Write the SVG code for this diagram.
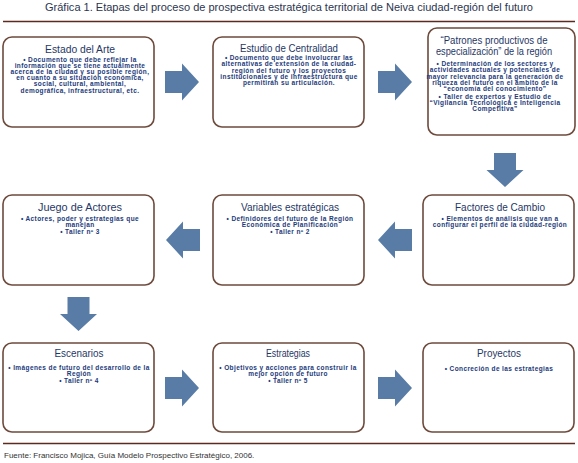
<svg xmlns="http://www.w3.org/2000/svg" width="578" height="463" viewBox="0 0 578 463">
<style>
.bg{fill:#ffffff}
.box{fill:#ffffff;stroke:#6e4a3c;stroke-width:1.6}
.rule{stroke:#5c2a1e;stroke-width:1.4}
.hd{font-family:"Liberation Sans","DejaVu Sans",sans-serif;font-size:10.5px;fill:#2b3550;text-anchor:middle}
.t{font-family:"Liberation Sans","DejaVu Sans",sans-serif;font-size:10.5px;fill:#1f3766;text-anchor:middle}
.t2{font-family:"Liberation Sans","DejaVu Sans",sans-serif;font-size:11px;fill:#1f3766;text-anchor:middle}
.b{font-family:"Liberation Sans","DejaVu Sans",sans-serif;font-size:6.5px;letter-spacing:0.4px;font-weight:bold;fill:#1c3a7a;text-anchor:middle}
.src{font-family:"Liberation Sans","DejaVu Sans",sans-serif;font-size:8px;fill:#333333}
.arr{fill:#587ca6}
</style>
<defs>
<path id="arrow" d="M0,-11 H17 V-18.5 L34,0 L17,18.5 V11 H0 Z"/>
</defs>
<rect class="bg" x="0" y="0" width="578" height="463"/>
<text class="hd" x="289" y="11" textLength="488" lengthAdjust="spacingAndGlyphs">Gráfica 1. Etapas del proceso de prospectiva estratégica territorial de Neiva ciudad-región del futuro</text>
<line class="rule" x1="3" y1="21.5" x2="575" y2="21.5"/>

<g id="connectors">
<use href="#arrow" class="arr" transform="translate(165,82)"/>
<use href="#arrow" class="arr" transform="translate(378,82)"/>
<use href="#arrow" class="arr" transform="translate(505,153) rotate(90)"/>
<use href="#arrow" class="arr" transform="translate(200,240) rotate(180)"/>
<use href="#arrow" class="arr" transform="translate(412,240) rotate(180)"/>
<use href="#arrow" class="arr" transform="translate(78.5,297) rotate(90)"/>
<use href="#arrow" class="arr" transform="translate(165,388)"/>
<use href="#arrow" class="arr" transform="translate(378,388)"/>
</g>

<g id="estado-del-arte">
<rect class="box" x="3" y="37" width="151" height="90" rx="9"/>
<text class="t" x="80" y="53" textLength="70" lengthAdjust="spacingAndGlyphs">Estado del Arte</text>
<text class="b" x="80" y="61.5">• Documento que debe reflejar la</text>
<text class="b" x="80" y="67.7">información que se tiene actualmente</text>
<text class="b" x="80" y="73.9">acerca de la ciudad y su posible región,</text>
<text class="b" x="80" y="80.1">en cuanto a su situación económica,</text>
<text class="b" x="80" y="86.3">social, cultural, ambiental,</text>
<text class="b" x="80" y="92.5">demográfica, infraestructural, etc.</text>
</g>

<g id="estudio-de-centralidad">
<rect class="box" x="213" y="37" width="151" height="90" rx="9"/>
<text class="t" x="289" y="52" textLength="98" lengthAdjust="spacingAndGlyphs">Estudio de Centralidad</text>
<text class="b" x="289" y="60.1">• Documento que debe involucrar las</text>
<text class="b" x="289" y="66.3">alternativas de extensión de la ciudad-</text>
<text class="b" x="289" y="72.5">región del futuro y los proyectos</text>
<text class="b" x="289" y="78.7">institucionales y de infraestructura que</text>
<text class="b" x="289" y="84.9">permitirán su articulación.</text>
</g>

<g id="patrones-productivos">
<rect class="box" x="428" y="28" width="147" height="107" rx="9"/>
<text class="t2" x="494" y="44" textLength="107" lengthAdjust="spacingAndGlyphs">“Patrones productivos de</text>
<text class="t2" x="494" y="55" textLength="116" lengthAdjust="spacingAndGlyphs">especialización” de la región</text>
<text class="b" x="495" y="66.2">• Determinación de los sectores y</text>
<text class="b" x="495" y="72.4">actividades actuales y potenciales de</text>
<text class="b" x="495" y="78.6">mayor relevancia para la generación de</text>
<text class="b" x="495" y="84.8">riqueza del futuro en el ámbito de la</text>
<text class="b" x="495" y="91">“economía del conocimiento”</text>
<text class="b" x="495" y="98.7">• Taller de expertos y Estudio de</text>
<text class="b" x="495" y="104.9">“Vigilancia Tecnológica e Inteligencia</text>
<text class="b" x="495" y="111.1">Competitiva”</text>
</g>

<g id="juego-de-actores">
<rect class="box" x="3" y="195" width="151" height="90" rx="9"/>
<text class="t" x="80" y="210.5" textLength="84" lengthAdjust="spacingAndGlyphs">Juego de Actores</text>
<text class="b" x="80" y="220.8">• Actores, poder y estrategias que</text>
<text class="b" x="80" y="227">manejan</text>
<text class="b" x="80" y="233.6">• Taller nº 3</text>
</g>

<g id="variables-estrategicas">
<rect class="box" x="213" y="195" width="151" height="90" rx="9"/>
<text class="t" x="290" y="210.5" textLength="98" lengthAdjust="spacingAndGlyphs">Variables estratégicas</text>
<text class="b" x="290" y="220.8">• Definidores del futuro de la Región</text>
<text class="b" x="290" y="227">Económica de Planificación</text>
<text class="b" x="290" y="233.6">• Taller nº 2</text>
</g>

<g id="factores-de-cambio">
<rect class="box" x="423" y="195" width="151" height="90" rx="9"/>
<text class="t" x="500" y="210.5" textLength="90" lengthAdjust="spacingAndGlyphs">Factores de Cambio</text>
<text class="b" x="500" y="220.8">• Elementos de análisis que van a</text>
<text class="b" x="500" y="227">configurar el perfil de la ciudad-región</text>
</g>

<g id="escenarios">
<rect class="box" x="3" y="343" width="151" height="89" rx="9"/>
<text class="t" x="79" y="357" textLength="49" lengthAdjust="spacingAndGlyphs">Escenarios</text>
<text class="b" x="79" y="369.8">• Imágenes de futuro del desarrollo de la</text>
<text class="b" x="79" y="376">Región</text>
<text class="b" x="79" y="382.6">• Taller nº 4</text>
</g>

<g id="estrategias">
<rect class="box" x="213" y="343" width="151" height="89" rx="9"/>
<text class="t" x="288" y="357" textLength="44" lengthAdjust="spacingAndGlyphs">Estrategias</text>
<text class="b" x="288" y="369.8">• Objetivos y acciones para construir la</text>
<text class="b" x="288" y="376">mejor opción de futuro</text>
<text class="b" x="288" y="382.6">• Taller nº 5</text>
</g>

<g id="proyectos">
<rect class="box" x="423" y="343" width="151" height="89" rx="9"/>
<text class="t" x="499" y="357" textLength="44" lengthAdjust="spacingAndGlyphs">Proyectos</text>
<text class="b" x="499" y="370.5">• Concreción de las estrategias</text>
</g>

<line class="rule" x1="3" y1="443.5" x2="575" y2="443.5"/>
<text class="src" x="4" y="458">Fuente: Francisco Mojica, Guía Modelo Prospectivo Estratégico, 2006.</text>
</svg>
